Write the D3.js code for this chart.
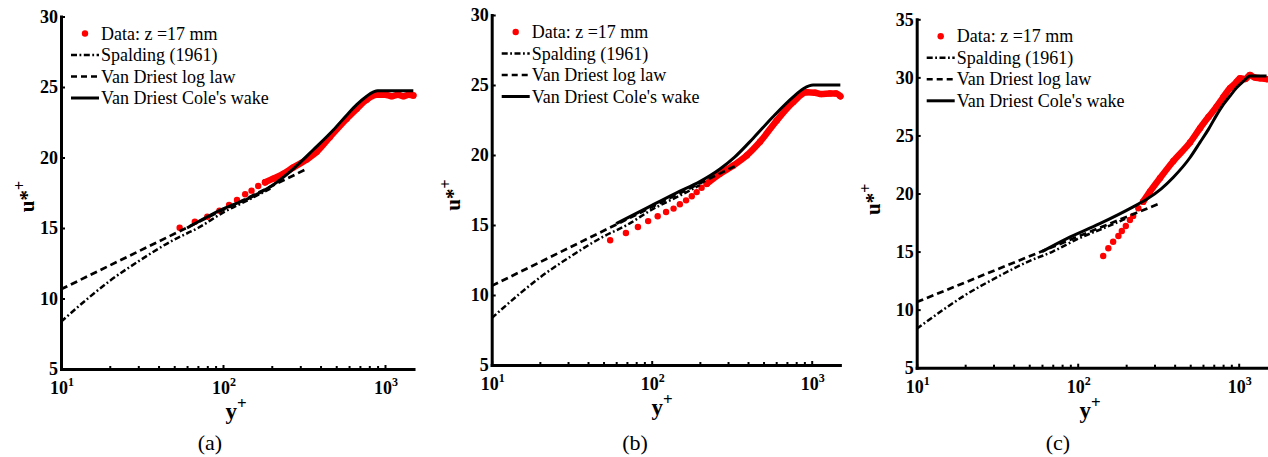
<!DOCTYPE html>
<html>
<head>
<meta charset="utf-8">
<script src="https://cdn.jsdelivr.net/npm/d3@7"></script>
<style>
  body { margin: 0; background: #fff; }
  svg { display: block; }
  text { font-family: "Liberation Serif", "Times New Roman", serif; fill: #000; }
</style>
</head>
<body>
<svg id="app" width="1268" height="457"></svg>
<script>
// ---- data: [y+, u*+] ----
const xMajor = [10, 100, 1000];
const xMinor = [20, 30, 40, 50, 60, 70, 80, 90, 200, 300, 400, 500, 600, 700, 800, 900];
const yTicksAB = [5, 10, 15, 20, 25, 30];
const yTicksC = [5, 10, 15, 20, 25, 30, 35];
const legendLabels = ["Data: z =17 mm", "Spalding (1961)", "Van Driest log law", "Van Driest Cole's wake"];
const captions = ["(a)", "(b)", "(c)"];

// same analytic curves on all three panels
const logLaw = [[10, 10.65], [330, 19.2]];
const spalding = [[10, 8.35], [15, 10.1], [20, 11.25], [30, 12.63], [50, 14.18], [70, 15.0],
                  [100, 16.09], [150, 17.1], [200, 17.85]];

// (a)
const wakeA = [[60, 15.0], [100, 16.35], [150, 17.2], [200, 18.0], [272, 19.2], [361, 20.55], [480, 21.95],
               [580, 23.0], [669, 23.75], [771, 24.35], [850, 24.65], [900, 24.74], [1496, 24.74]];
const dotsA = [[54, 15.02], [67, 15.45], [80, 15.8], [95, 16.23], [109, 16.63], [122, 16.99], [137, 17.39],
               [150, 17.65], [165, 17.98], [182, 18.24]];
const bandA = [[182, 18.24], [204, 18.5], [236, 18.85], [272, 19.3], [328, 19.85], [379, 20.4], [457, 21.45],
               [580, 22.75], [669, 23.45], [771, 24.1], [889, 24.45], [1000, 24.45], [1100, 24.35],
               [1200, 24.45], [1300, 24.35], [1400, 24.45], [1496, 24.4]];

// (b)
const wakeB = [[60, 15.1], [89, 16.1], [143, 17.3], [200, 18.1], [267, 19.0], [330, 19.85], [431, 21.2],
               [575, 22.75], [767, 24.15], [891, 24.75], [1020, 25.0], [1510, 25.0]];
const dotsB = [[55, 13.91], [69, 14.43], [82, 14.86], [95, 15.28], [109, 15.62], [123, 15.93], [137, 16.17],
               [150, 16.48], [164, 16.76], [178, 17.05], [191, 17.35], [205, 17.66], [221, 17.95]];
const bandB = [[221, 17.95], [267, 18.66], [324, 19.25], [393, 19.97], [476, 20.95], [604, 22.46], [767, 23.78],
               [931, 24.48], [1050, 24.45], [1150, 24.35], [1300, 24.4], [1420, 24.4], [1510, 24.2]];

// (c)
const wakeC = [[60, 15.0], [85, 16.1], [137, 17.4], [221, 18.85], [268, 19.5], [330, 20.4], [393, 21.4],
               [499, 23.1], [575, 24.4], [647, 25.5], [729, 26.75], [802, 27.65], [883, 28.4], [970, 29.1],
               [1069, 29.65], [1175, 30.12], [1490, 30.12]];
const dotsC = [[144, 14.62], [155, 15.28], [166, 15.85], [179, 16.34], [188, 16.77], [199, 17.2], [211, 17.72],
               [221, 18.07], [238, 18.73], [255, 19.3]];
const bandC = [[255, 19.3], [281, 20.16], [324, 21.31], [393, 22.8], [499, 24.4], [575, 25.62], [650, 26.6],
               [729, 27.48], [802, 28.3], [883, 29.07], [970, 29.6], [1018, 29.93], [1100, 29.85],
               [1175, 30.2], [1250, 30.0], [1358, 29.93], [1490, 29.85]];

// ---- layout of the three panels (pixels) ----
const panels = [
  { left: 61,    decade: 162, top: 16.5, bottom: 369,   yMax: 30, yTicks: yTicksAB, wake: wakeA, dots: dotsA, band: bandA,
    yLabX: 27,  xLabX: 236,  capX: 210, caption: captions[0] },
  { left: 491.7, decade: 160, top: 15,   bottom: 365,   yMax: 30, yTicks: yTicksAB, wake: wakeB, dots: dotsB, band: bandB,
    yLabX: 453, xLabX: 662,  capX: 635, caption: captions[1] },
  { left: 916.7, decade: 161, top: 19.3, bottom: 367.7, yMax: 35, yTicks: yTicksC,  wake: wakeC, dots: dotsC, band: bandC,
    yLabX: 873, xLabX: 1090, capX: 1058, caption: captions[2] }
];

const RED = "#ff0000";
const FONT = "Liberation Serif, Times New Roman, serif";
const svg = d3.select("#app");

function drawPanel(p) {
  const x = d3.scaleLog().domain([10, 1500]).range([p.left, p.left + p.decade * Math.log10(150)]);
  const y = d3.scaleLinear().domain([5, p.yMax]).range([p.bottom, p.top]);
  const g = svg.append("g").attr("font-family", FONT);

  const line = d3.line().x(d => x(d[0])).y(d => y(d[1])).curve(d3.curveMonotoneX);

  // data: thick red band of overlapping points + single dots
  g.append("path").datum(p.band).attr("d", line)
    .attr("fill", "none").attr("stroke", RED).attr("stroke-width", 6.5)
    .attr("stroke-linecap", "round").attr("stroke-linejoin", "round");
  g.selectAll("circle.pt").data(p.dots.concat(p.band)).enter().append("circle")
    .attr("class", "pt")
    .attr("cx", d => x(d[0])).attr("cy", d => y(d[1])).attr("r", 3.2).attr("fill", RED);

  // model curves
  g.append("path").datum(spalding).attr("d", line)
    .attr("fill", "none").attr("stroke", "#000").attr("stroke-width", 2.5).attr("stroke-dasharray", "6,2.5,1.8,2.5");
  g.append("path").datum(logLaw).attr("d", line)
    .attr("fill", "none").attr("stroke", "#000").attr("stroke-width", 2.7).attr("stroke-dasharray", "7,4");
  g.append("path").datum(p.wake).attr("d", line)
    .attr("fill", "none").attr("stroke", "#000").attr("stroke-width", 3);

  // x axis
  const xAx = g.append("g").attr("transform", `translate(0,${p.bottom})`)
    .call(d3.axisBottom(x).tickValues(xMajor).tickSize(-4).tickSizeOuter(0).tickFormat(""));
  g.append("g").attr("transform", `translate(0,${p.bottom})`)
    .call(d3.axisBottom(x).tickValues(xMinor).tickSize(-3).tickSizeOuter(0).tickFormat(""))
    .call(s => s.select(".domain").remove());
  xAx.select(".domain").attr("stroke-width", 3).attr("stroke-linecap", "square");
  g.selectAll(".tick line").attr("stroke-width", 2);

  const xl = g.selectAll("text.xtick").data(xMajor).enter().append("text")
    .attr("class", "xtick")
    .attr("x", d => x(d) - 11).attr("y", p.bottom + 25)
    .attr("font-family", FONT).attr("font-size", 18).attr("font-weight", "bold");
  xl.append("tspan").text("10");
  xl.append("tspan").attr("dy", -8).attr("font-size", 12).text(d => Math.round(Math.log10(d)));

  // y axis
  const yAx = g.append("g").attr("transform", `translate(${p.left},0)`)
    .call(d3.axisLeft(y).tickValues(p.yTicks).tickSize(-4).tickSizeOuter(0).tickPadding(3));
  yAx.attr("font-family", FONT);
  yAx.select(".domain").attr("stroke-width", 3).attr("stroke-linecap", "square");
  yAx.selectAll(".tick line").attr("stroke-width", 2);
  yAx.selectAll("text").attr("font-size", 18).attr("font-weight", "bold")
    .attr("font-family", FONT).attr("fill", "#000");

  // axis labels
  const yl = g.append("text")
    .attr("transform", `translate(${p.yLabX + 7},${p.top + 180}) rotate(-90)`)
    .attr("text-anchor", "middle").attr("font-size", 21).attr("font-weight", "bold");
  yl.append("tspan").text("u*");
  yl.append("tspan").attr("dy", -9).attr("font-size", 16).text("+");

  const xlab = g.append("text").attr("x", p.xLabX).attr("y", p.bottom + 50)
    .attr("text-anchor", "middle").attr("font-size", 23).attr("font-weight", "bold");
  xlab.append("tspan").text("y");
  xlab.append("tspan").attr("dy", -10).attr("font-size", 17).text("+");

  g.append("text").attr("x", p.capX).attr("y", 450).attr("text-anchor", "middle")
    .attr("font-size", 22).text(p.caption);

  // legend
  const lx = p.left, rows = [17, 38.5, 60, 81.5];
  g.append("circle").attr("cx", lx + 24).attr("cy", p.top + rows[0]).attr("r", 3.2).attr("fill", RED);
  const styles = [null, "6,2.5,1.8,2.5", "6,4", null];
  [1, 2, 3].forEach(i => {
    g.append("line").attr("x1", lx + 10).attr("x2", lx + 38)
      .attr("y1", p.top + rows[i]).attr("y2", p.top + rows[i])
      .attr("stroke", "#000").attr("stroke-width", i === 3 ? 3 : 2.5)
      .attr("stroke-dasharray", styles[i]);
  });
  g.selectAll("text.leg").data(legendLabels).enter().append("text")
    .attr("class", "leg")
    .attr("x", lx + 40).attr("y", (d, i) => p.top + rows[i] + 6)
    .attr("font-size", 18).text(d => d);
}

panels.forEach(drawPanel);
</script>
</body>
</html>
